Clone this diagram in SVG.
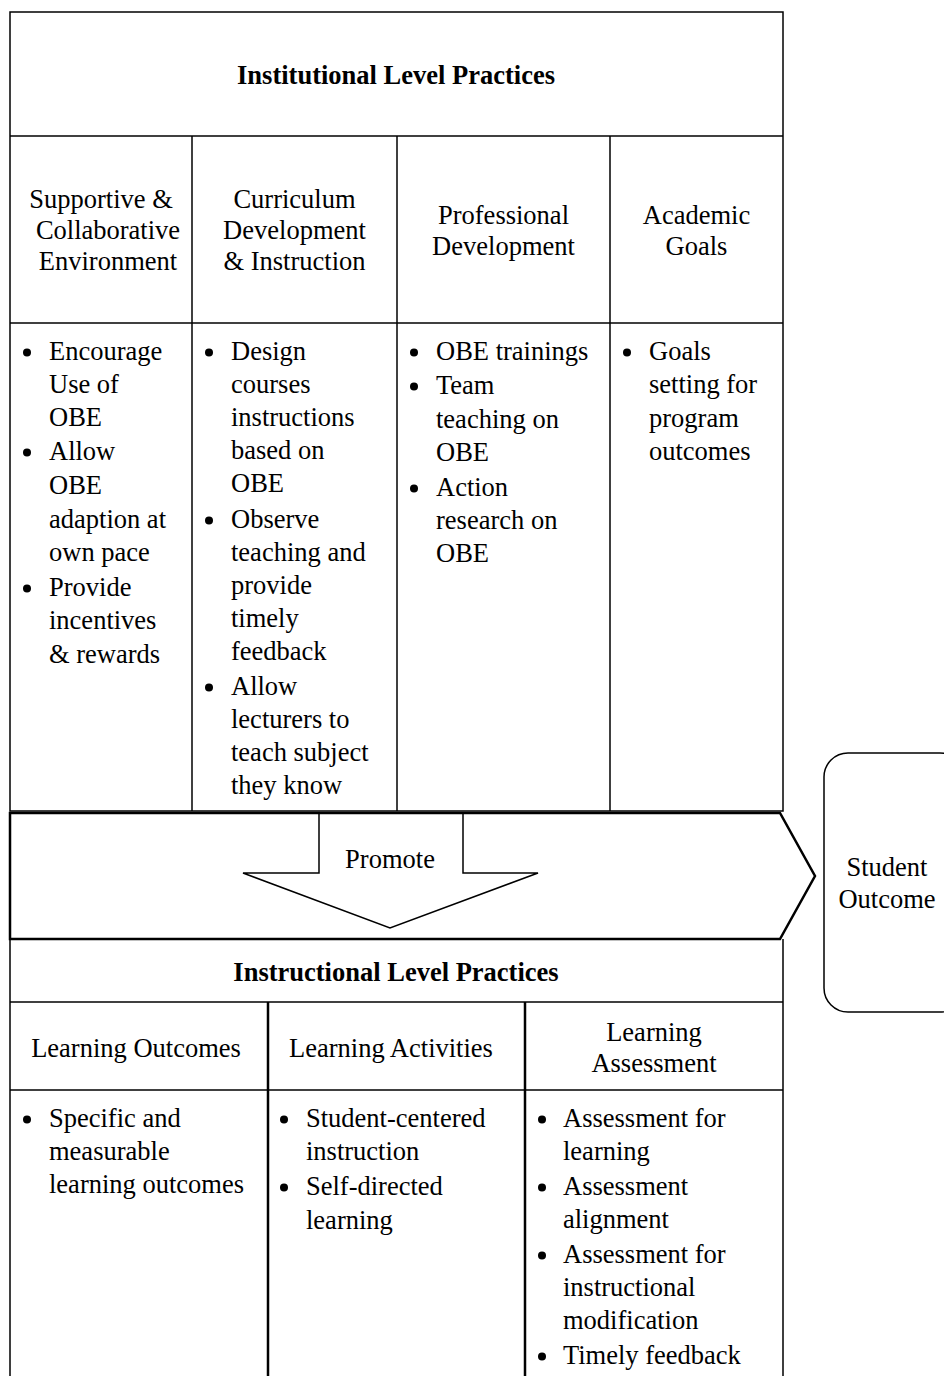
<svg xmlns="http://www.w3.org/2000/svg" width="944" height="1376" viewBox="0 0 944 1376">
<style>
text{font-family:"Liberation Serif","Times New Roman",serif;font-size:26.5px;fill:#000}
.b{font-weight:bold}
.c{text-anchor:middle}
.ln{stroke:#000;stroke-width:1.5;fill:none}
.tk{stroke:#000;stroke-width:2.5;fill:none}
.d{fill:#000}
</style>
<rect width="944" height="1376" fill="#fff"/>
<g id="institutional">
<rect class="ln" x="10" y="12" width="773" height="799" fill="#fff"/>
<line class="ln" x1="10" y1="136" x2="783" y2="136"/>
<line class="ln" x1="10" y1="323" x2="783" y2="323"/>
<line class="ln" x1="192" y1="136" x2="192" y2="811"/>
<line class="ln" x1="397" y1="136" x2="397" y2="811"/>
<line class="ln" x1="610" y1="136" x2="610" y2="811"/>
<text class="b c" x="396" y="84">Institutional Level Practices</text>
<text class="c" x="101"><tspan x="101" y="208">Supportive &amp;</tspan><tspan x="108" y="239">Collaborative</tspan><tspan x="108" y="270">Environment</tspan></text>
<text class="c"><tspan x="294.5" y="208">Curriculum</tspan><tspan x="294.5" y="239">Development</tspan><tspan x="294.5" y="270">&amp; Instruction</tspan></text>
<text class="c"><tspan x="503.5" y="224">Professional</tspan><tspan x="503.5" y="255">Development</tspan></text>
<text class="c"><tspan x="696.5" y="224">Academic</tspan><tspan x="696.5" y="255">Goals</tspan></text>
<g id="col1">
<circle class="d" cx="27" cy="352.5" r="4"/><circle class="d" cx="27" cy="452.5" r="4"/><circle class="d" cx="27" cy="588.5" r="4"/>
<text><tspan x="49" y="360">Encourage</tspan><tspan x="49" y="393">Use of</tspan><tspan x="49" y="426">OBE</tspan><tspan x="49" y="460">Allow</tspan><tspan x="49" y="494">OBE</tspan><tspan x="49" y="528">adaption at</tspan><tspan x="49" y="561">own pace</tspan><tspan x="49" y="596">Provide</tspan><tspan x="49" y="629">incentives</tspan><tspan x="49" y="663">&amp; rewards</tspan></text>
</g>
<g id="col2">
<circle class="d" cx="209" cy="352.5" r="4"/><circle class="d" cx="209" cy="520.5" r="4"/><circle class="d" cx="209" cy="687.5" r="4"/>
<text><tspan x="231" y="360">Design</tspan><tspan x="231" y="393">courses</tspan><tspan x="231" y="426">instructions</tspan><tspan x="231" y="459">based on</tspan><tspan x="231" y="492">OBE</tspan><tspan x="231" y="528">Observe</tspan><tspan x="231" y="561">teaching and</tspan><tspan x="231" y="594">provide</tspan><tspan x="231" y="627">timely</tspan><tspan x="231" y="660">feedback</tspan><tspan x="231" y="695">Allow</tspan><tspan x="231" y="728">lecturers to</tspan><tspan x="231" y="761">teach subject</tspan><tspan x="231" y="794">they know</tspan></text>
</g>
<g id="col3">
<circle class="d" cx="414" cy="352.5" r="4"/><circle class="d" cx="414" cy="386.5" r="4"/><circle class="d" cx="414" cy="488.5" r="4"/>
<text><tspan x="436" y="360">OBE trainings</tspan><tspan x="436" y="394">Team</tspan><tspan x="436" y="428">teaching on</tspan><tspan x="436" y="461">OBE</tspan><tspan x="436" y="496">Action</tspan><tspan x="436" y="529">research on</tspan><tspan x="436" y="562">OBE</tspan></text>
</g>
<g id="col4">
<circle class="d" cx="627" cy="352.5" r="4"/>
<text><tspan x="649" y="360">Goals</tspan><tspan x="649" y="393">setting for</tspan><tspan x="649" y="427">program</tspan><tspan x="649" y="460">outcomes</tspan></text>
</g>
</g>
<g id="connectors">
<polygon class="tk" points="10,813 780,813 815,876 780,939 10,939" fill="#fff"/>
<polygon class="ln" stroke-width="2" points="319,813 463,813 463,873 538,873 390,928 243,873 319,873" fill="#fff"/>
<text class="c" x="390" y="868">Promote</text>
</g>
<g id="instructional">
<path class="ln" d="M10,939 V1376 M783,939 V1376"/>
<line class="ln" x1="10" y1="1002" x2="783" y2="1002"/>
<line class="ln" x1="10" y1="1090" x2="783" y2="1090"/>
<line class="tk" x1="268" y1="1002" x2="268" y2="1376"/>
<line class="tk" x1="525" y1="1002" x2="525" y2="1376"/>
<text class="b c" x="396" y="981">Instructional Level Practices</text>
<text class="c" x="136" y="1057">Learning Outcomes</text>
<text class="c" x="391" y="1057">Learning Activities</text>
<text class="c"><tspan x="654" y="1041">Learning</tspan><tspan x="654" y="1072">Assessment</tspan></text>
<circle class="d" cx="27" cy="1119.5" r="4"/>
<text><tspan x="49" y="1127">Specific and</tspan><tspan x="49" y="1160">measurable</tspan><tspan x="49" y="1193">learning outcomes</tspan></text>
<circle class="d" cx="284" cy="1119.5" r="4"/><circle class="d" cx="284" cy="1187.5" r="4"/>
<text><tspan x="306" y="1127">Student-centered</tspan><tspan x="306" y="1160">instruction</tspan><tspan x="306" y="1195">Self-directed</tspan><tspan x="306" y="1229">learning</tspan></text>
<circle class="d" cx="542" cy="1119.5" r="4"/><circle class="d" cx="542" cy="1187.5" r="4"/><circle class="d" cx="542" cy="1255.5" r="4"/><circle class="d" cx="542" cy="1356.5" r="4"/>
<text><tspan x="563" y="1127">Assessment for</tspan><tspan x="563" y="1160">learning</tspan><tspan x="563" y="1195">Assessment</tspan><tspan x="563" y="1228">alignment</tspan><tspan x="563" y="1263">Assessment for</tspan><tspan x="563" y="1296">instructional</tspan><tspan x="563" y="1329">modification</tspan><tspan x="563" y="1364">Timely feedback</tspan></text>
</g>
<g id="student-outcome">
<rect class="ln" stroke-width="2" x="824" y="753" width="140" height="259" rx="24" fill="#fff"/>
<text class="c"><tspan x="887" y="876">Student</tspan><tspan x="887" y="908">Outcome</tspan></text>
</g>
</svg>
